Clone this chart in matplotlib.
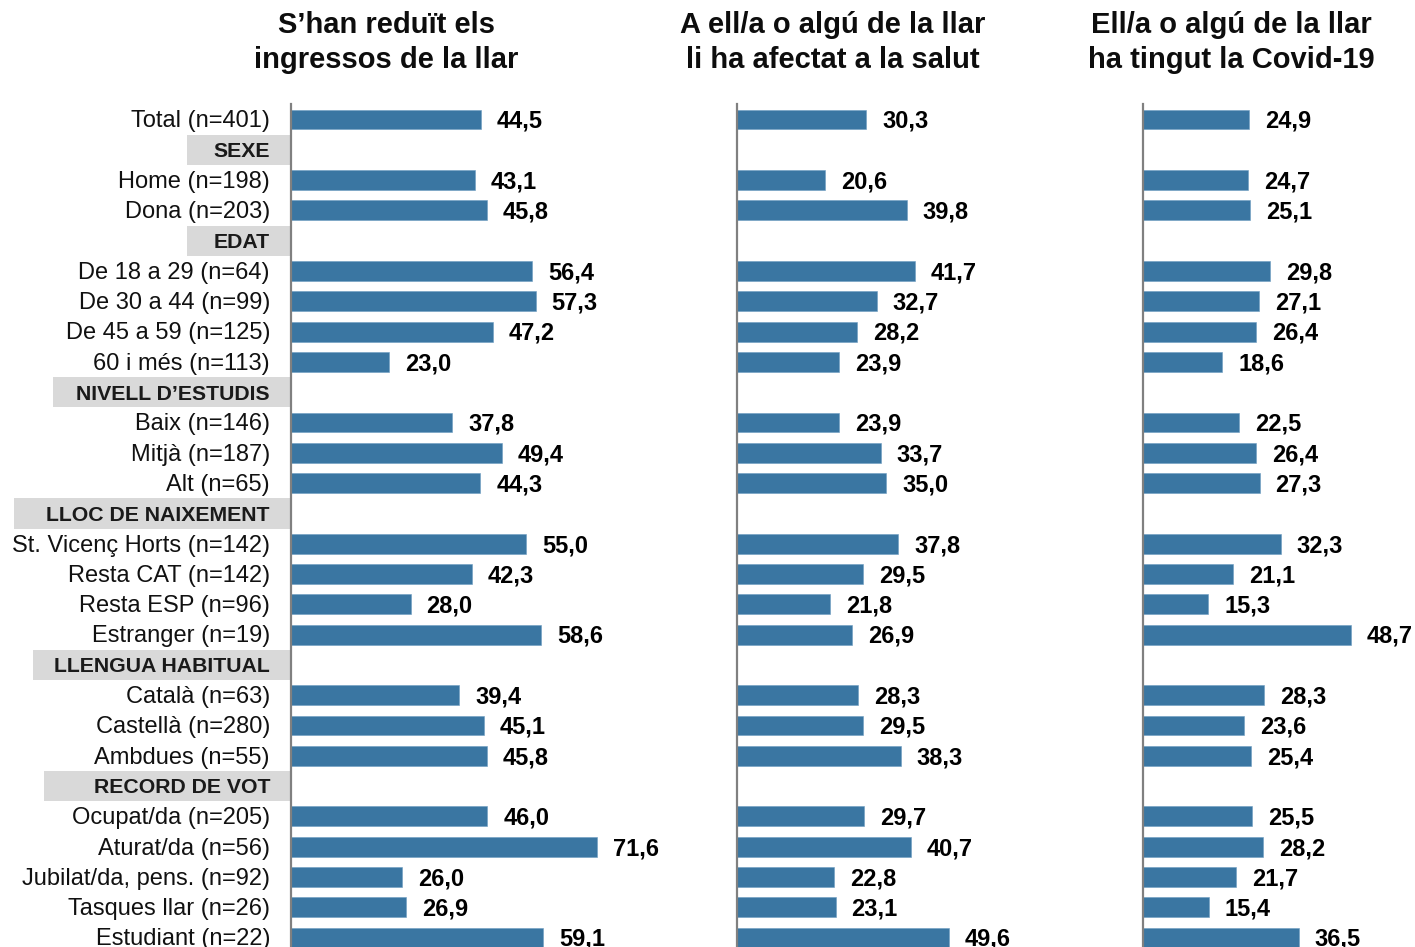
import matplotlib
matplotlib.use("Agg")
import matplotlib.pyplot as plt
from matplotlib.patches import Rectangle
from matplotlib.transforms import blended_transform_factory

plt.rcParams['font.family'] = ['Liberation Sans', 'DejaVu Sans']

# ---------------- data ----------------
row_labels = ["Total (n=401)", "SEXE", "Home (n=198)", "Dona (n=203)", "EDAT",
              "De 18 a 29 (n=64)", "De 30 a 44 (n=99)", "De 45 a 59 (n=125)", "60 i més (n=113)",
              "NIVELL D’ESTUDIS", "Baix (n=146)", "Mitjà (n=187)", "Alt (n=65)",
              "LLOC DE NAIXEMENT", "St. Vicenç Horts (n=142)", "Resta CAT (n=142)",
              "Resta ESP (n=96)", "Estranger (n=19)",
              "LLENGUA HABITUAL", "Català (n=63)", "Castellà (n=280)", "Ambdues (n=55)",
              "RECORD DE VOT", "Ocupat/da (n=205)", "Aturat/da (n=56)",
              "Jubilat/da, pens. (n=92)", "Tasques llar (n=26)", "Estudiant (n=22)"]
header_rows = ["SEXE", "EDAT", "NIVELL D’ESTUDIS", "LLOC DE NAIXEMENT",
               "LLENGUA HABITUAL", "RECORD DE VOT"]

titles = ["S’han reduït els\ningressos de la llar",
          "A ell/a o algú de la llar\nli ha afectat a la salut",
          "Ell/a o algú de la llar\nha tingut la Covid-19"]

ingressos = [44.5, None, 43.1, 45.8, None, 56.4, 57.3, 47.2, 23.0, None, 37.8, 49.4, 44.3,
             None, 55.0, 42.3, 28.0, 58.6, None, 39.4, 45.1, 45.8, None, 46.0, 71.6, 26.0,
             26.9, 59.1]
salut = [30.3, None, 20.6, 39.8, None, 41.7, 32.7, 28.2, 23.9, None, 23.9, 33.7, 35.0,
         None, 37.8, 29.5, 21.8, 26.9, None, 28.3, 29.5, 38.3, None, 29.7, 40.7, 22.8,
         23.1, 49.6]
covid = [24.9, None, 24.7, 25.1, None, 29.8, 27.1, 26.4, 18.6, None, 22.5, 26.4, 27.3,
         None, 32.3, 21.1, 15.3, 48.7, None, 28.3, 23.6, 25.4, None, 25.5, 28.2, 21.7,
         15.4, 36.5]
series = [ingressos, salut, covid]

# ---------------- layout (pixels) ----------------
W, H = 1415, 947
DPI = 100
PITCH = 30.3          # px per row
ROW0 = 119.5          # y (from top) of first row centre
PX_PER_UNIT = 4.27
TEXT_DY = 0.06        # small downward nudge of text (rows)
panel_left = [291, 737, 1143]
panel_width = [390, 390, 272]
title_cx = [386, 833, 1231]
label_right_px = 270
box_right_px = 290
header_box_left_px = {"SEXE": 187, "EDAT": 187, "NIVELL D’ESTUDIS": 53,
                      "LLOC DE NAIXEMENT": 14, "LLENGUA HABITUAL": 33,
                      "RECORD DE VOT": 44}

BAR_COLOR = "#3a76a2"
BOX_COLOR = "#d9d9d9"
SPINE_COLOR = "#808080"

fig = plt.figure(figsize=(W / DPI, H / DPI), dpi=DPI)

n = len(row_labels)
top_px = ROW0 - 0.5 * PITCH
height_px = n * PITCH
bottom_frac = (H - (top_px + height_px)) / H

axes = []
for i in range(3):
    ax = fig.add_axes([panel_left[i] / W, bottom_frac, panel_width[i] / W, height_px / H])
    ax.set_ylim(n - 0.5, -0.5)
    ax.set_xlim(0, panel_width[i] / PX_PER_UNIT)
    for s in ["top", "right", "bottom"]:
        ax.spines[s].set_visible(False)
    ax.spines["left"].set_color(SPINE_COLOR)
    ax.spines["left"].set_linewidth(1.6)
    ax.set_xticks([])
    ax.set_yticks([])
    ax.patch.set_alpha(0)

    vals = series[i]
    ys = [k for k, v in enumerate(vals) if v is not None]
    vs = [v for v in vals if v is not None]
    ax.barh(ys, vs, height=0.66, color=BAR_COLOR, edgecolor="#6d9cc0", linewidth=0.4)
    for y, v in zip(ys, vs):
        ax.annotate(f"{v:.1f}".replace(".", ","), xy=(v, y + TEXT_DY), xytext=(11.5, 0),
                    textcoords="offset points", ha="left", va="center",
                    fontsize=17, fontweight="bold", color="black", annotation_clip=False)
    axes.append(ax)

    fig.text(title_cx[i] / W, 1 - 42.5 / H, titles[i], ha="center", va="center",
             fontsize=21, fontweight="bold", linespacing=1.28, color="#0d0d0d")

# category labels and header boxes
ax0 = axes[0]
tr = blended_transform_factory(fig.transFigure, ax0.transData)
for k, lab in enumerate(row_labels):
    if lab in header_rows:
        x0 = header_box_left_px[lab]
        rect = Rectangle((x0 / W, k - 0.5), (box_right_px - x0) / W, 1.0,
                         transform=tr, facecolor=BOX_COLOR, edgecolor="none",
                         clip_on=False, zorder=0)
        fig.add_artist(rect)
        fig.text(label_right_px / W, k + TEXT_DY, lab, transform=tr, ha="right", va="center",
                 fontsize=15.3, fontweight="bold", color="#1a1a1a")
    else:
        fig.text(label_right_px / W, k + TEXT_DY, lab, transform=tr, ha="right", va="center",
                 fontsize=17, color="#111111")

fig.savefig("out.png", dpi=DPI)
